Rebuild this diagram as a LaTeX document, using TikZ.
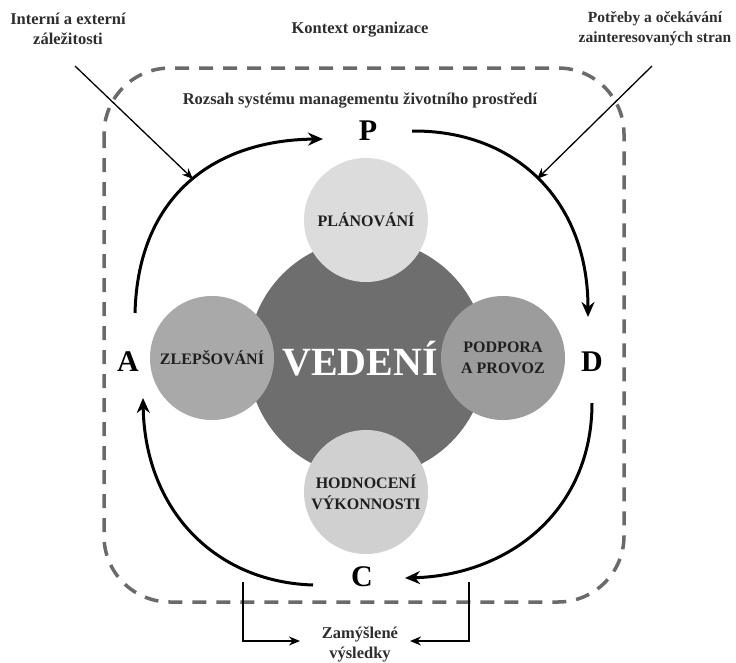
\documentclass[tikz,border=0pt]{standalone}
\usepackage{fontspec}
\setmainfont{Liberation Serif}
\usetikzlibrary{arrows.meta}
\definecolor{darkc}{HTML}{6E6E6E}
\definecolor{lightc}{HTML}{DCDCDC}
\definecolor{lightd}{HTML}{D0D0D0}
\definecolor{midc}{HTML}{A9A9A9}
\definecolor{midd}{HTML}{9C9C9C}
\definecolor{dashc}{HTML}{6A6A6A}
\tikzset{
  lbl/.style={font=\bfseries\fontsize{16.5}{20}\selectfont, align=center, text=black!82},
  phase/.style={font=\bfseries\fontsize{30}{32}\selectfont, inner sep=0pt},
  inner/.style={circle, minimum size=124pt, inner sep=0pt, font=\bfseries\fontsize{16}{21}\selectfont, align=center, text=black!88},
  cyc/.style={line width=3pt, -{Stealth[length=15pt,width=13pt]}},
  thin/.style={line width=1.3pt, -{Stealth[length=11pt,width=9pt]}},
}
\begin{document}
\begin{tikzpicture}[x=1pt,y=-1pt]
\useasboundingbox (0,0) rectangle (736,662);
\fill[white] (0,0) rectangle (736,662);
% dashed frame
\draw[dashc, line width=3.5pt, dash pattern=on 14pt off 10pt, rounded corners=66pt] (104,68) rectangle (624,602);
% circles
\node[circle, fill=darkc, minimum size=238pt, inner sep=0pt] (ved) at (367,358) {};
\node[inner, fill=lightc] (plan) at (366,220) {PLÁNOVÁNÍ};
\node[inner, fill=midc] (zlep) at (212,358) {ZLEPŠOVÁNÍ};
\node[inner, fill=midd] (podp) at (503,358) {PODPORA\\A PROVOZ};
\node[inner, fill=lightd] (hodn) at (366,492) {HODNOCENÍ\\VÝKONNOSTI};
\node[font=\bfseries\fontsize{40}{44}\selectfont, text=white, inner sep=0pt] (vtext) at (360,359) {VEDENÍ};
% phase letters
\node[phase] (P) at (368,131) {P};
\node[phase] (A) at (128,362) {A};
\node[phase] (D) at (592,362) {D};
\node[phase] (C) at (362,577) {C};
% cycle arrows
\coordinate (a1) at (135,313); \coordinate (p0) at (323,139);
\coordinate (p1) at (412,131); \coordinate (d0) at (588,317);
\coordinate (d1) at (592,403); \coordinate (c0) at (405,578);
\coordinate (c1) at (313,585); \coordinate (a0) at (143,398);
\draw[cyc] (a1) .. controls (138,195) and (215,140) .. (p0);
\draw[cyc] (p1) .. controls (515,130) and (588,200) .. (d0);
\draw[cyc] (d1) .. controls (592,510) and (510,575) .. (c0);
\draw[cyc] (c1) .. controls (215,582) and (145,510) .. (a0);
% texts
\node[lbl] (int) at (68,29) {Interní a externí\\záležitosti};
\node[lbl] (kon) at (360,30) {Kontext organizace};
\node[lbl, font=\bfseries\fontsize{15.5}{20}\selectfont] (pot) at (655,29) {Potřeby a očekávání\\zainteresovaných stran};
\node[lbl] (roz) at (360,100) {Rozsah systému managementu životního prostředí};
\node[lbl] (zam) at (360,644) {Zamýšlené\\výsledky};
% input arrows
\coordinate (i0) at (75,66); \coordinate (i1) at (193,179);
\coordinate (o0) at (652,66); \coordinate (o1) at (537,179);
\draw[thin] (i0) -- (i1);
\draw[thin] (o0) -- (o1);
% output arrows
\coordinate (l0) at (243,582); \coordinate (r0) at (469,582);
\coordinate (lt) at (300,641); \coordinate (rt) at (410,641);
\draw[thin] (l0) |- (lt);
\draw[thin] (r0) |- (rt);
\end{tikzpicture}
\end{document}
